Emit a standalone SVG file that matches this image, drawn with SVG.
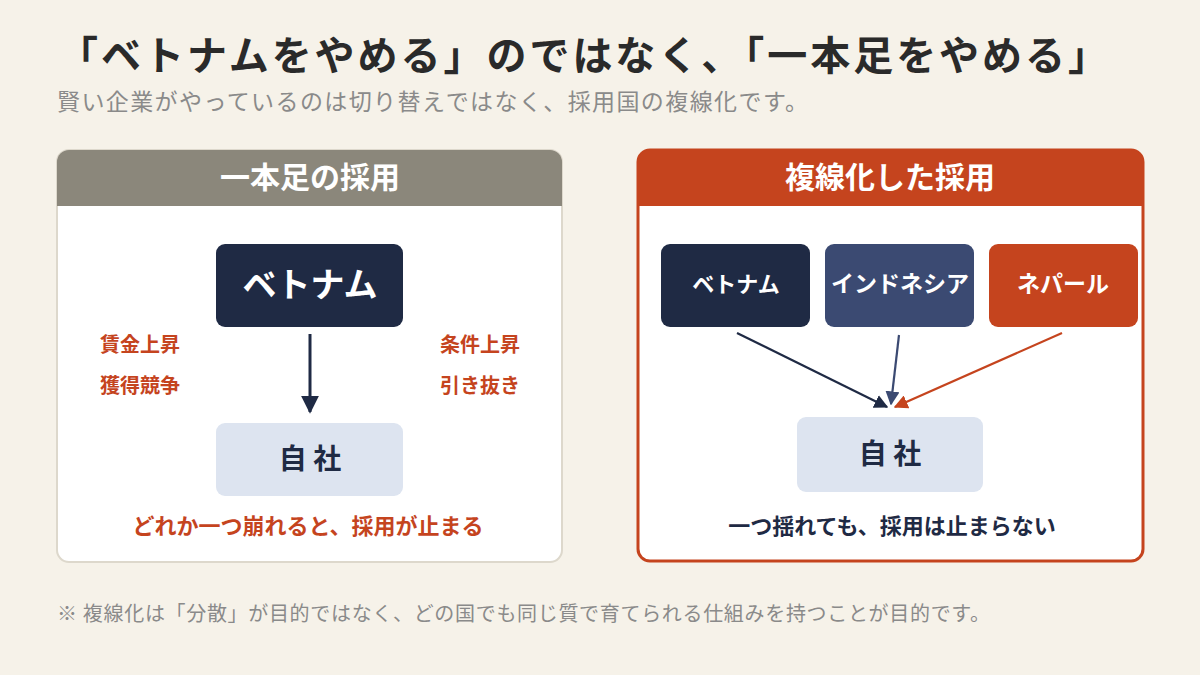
<svg xmlns="http://www.w3.org/2000/svg" width="1200" height="675" viewBox="0 0 1200 675">
<style>
text{font-family:"Noto Sans CJK JP","Noto Sans",sans-serif}
.b{font-weight:700}
.title{font-size:40px;fill:#2a2a2a;font-weight:700}
.sub{font-size:23px;fill:#8a8a8a}
.hdr{font-size:30px;fill:#fff;font-weight:700;text-anchor:middle}
.node{text-anchor:middle;font-weight:700}
.red{fill:#c5441e}
.navy{fill:#1f2a44}
.note{font-size:20px;fill:#8a8a8a}
</style>
<defs>
<marker id="aNavy" viewBox="0 0 10 10" refX="9" refY="5" markerWidth="14" markerHeight="14" orient="auto" markerUnits="userSpaceOnUse">
<path d="M0,0 L10,5 L0,10 z" fill="#1f2a44"/>
</marker>
<marker id="aBlue" viewBox="0 0 10 10" refX="9" refY="5" markerWidth="14" markerHeight="14" orient="auto" markerUnits="userSpaceOnUse">
<path d="M0,0 L10,5 L0,10 z" fill="#3b4a72"/>
</marker>
<marker id="aRed" viewBox="0 0 10 10" refX="9" refY="5" markerWidth="14" markerHeight="14" orient="auto" markerUnits="userSpaceOnUse">
<path d="M0,0 L10,5 L0,10 z" fill="#c5441e"/>
</marker>
<marker id="aBig" viewBox="0 0 10 10" refX="9" refY="5" markerWidth="18" markerHeight="18" orient="auto" markerUnits="userSpaceOnUse">
<path d="M0,0 L10,5 L0,10 z" fill="#1f2a44"/>
</marker>
</defs>
<rect width="1200" height="675" fill="#f6f2e9"/>
<text class="title" x="58" y="70" textLength="1050" lengthAdjust="spacing">「ベトナムをやめる」のではなく、「一本足をやめる」</text>
<text class="sub" x="57" y="110" textLength="751" lengthAdjust="spacing">賢い企業がやっているのは切り替えではなく、採用国の複線化です。</text>

<g id="panel-left">
<rect x="57" y="150" width="505" height="412" rx="12" fill="#fff" stroke="#ddd8cc" stroke-width="2"/>
<path d="M57,206 V162 A12,12 0 0 1 69,150 H550 A12,12 0 0 1 562,162 V206 Z" fill="#8b877b"/>
<text class="hdr" x="310" y="188">一本足の採用</text>
</g>
<g id="node-vietnam-left">
<rect x="216" y="244" width="187" height="83" rx="9" fill="#1f2a44"/>
<text class="node" x="310" y="297" font-size="34" fill="#fff">ベトナム</text>
</g>
<g id="node-company-left">
<rect x="216" y="423" width="187" height="73" rx="9" fill="#dde4f0"/>
<text class="node navy" x="310" y="469" font-size="28">自 社</text>
</g>
<g id="labels-left" class="b" font-size="20">
<text class="red" x="100" y="352">賃金上昇</text>
<text class="red" x="100" y="393">獲得競争</text>
<text class="red" x="440" y="352">条件上昇</text>
<text class="red" x="440" y="393">引き抜き</text>
<text class="red node" x="308" y="534" font-size="22">どれか一つ崩れると、採用が止まる</text>
</g>

<g id="panel-right">
<rect x="638" y="150" width="505" height="411" rx="12" fill="#fff" stroke="#c5441e" stroke-width="3"/>
<path d="M638,206 V162 A12,12 0 0 1 650,150 H1131 A12,12 0 0 1 1143,162 V206 Z" fill="#c5441e"/>
<text class="hdr" x="890" y="188">複線化した採用</text>
</g>
<g id="node-vietnam">
<rect x="661" y="244" width="149" height="83" rx="9" fill="#1f2a44"/>
<text class="node" x="736" y="292" font-size="22" fill="#fff">ベトナム</text>
</g>
<g id="node-indonesia">
<rect x="825" y="244" width="149" height="83" rx="9" fill="#3b4a72"/>
<text class="node" x="900" y="292" font-size="23" fill="#fff">インドネシア</text>
</g>
<g id="node-nepal">
<rect x="989" y="244" width="149" height="83" rx="9" fill="#c5441e"/>
<text class="node" x="1063" y="292" font-size="23" fill="#fff">ネパール</text>
</g>
<g id="node-company-right">
<rect x="797" y="417" width="186" height="75" rx="9" fill="#dde4f0"/>
<text class="node navy" x="890" y="464" font-size="28">自 社</text>
</g>
<text class="node navy" x="892" y="534" font-size="22">一つ揺れても、採用は止まらない</text>

<g id="connectors" fill="none" stroke-width="2.2">
<line x1="310" y1="334" x2="310" y2="412" stroke="#1f2a44" stroke-width="3" marker-end="url(#aBig)"/>
<line x1="737" y1="333" x2="887" y2="407" stroke="#1f2a44" marker-end="url(#aNavy)"/>
<line x1="899" y1="335" x2="891" y2="404" stroke="#3b4a72" marker-end="url(#aBlue)"/>
<line x1="1062" y1="333" x2="895" y2="407" stroke="#c5441e" marker-end="url(#aRed)"/>
</g>

<text class="note" x="57" y="621" textLength="933" lengthAdjust="spacing">※ 複線化は「分散」が目的ではなく、どの国でも同じ質で育てられる仕組みを持つことが目的です。</text>
</svg>
